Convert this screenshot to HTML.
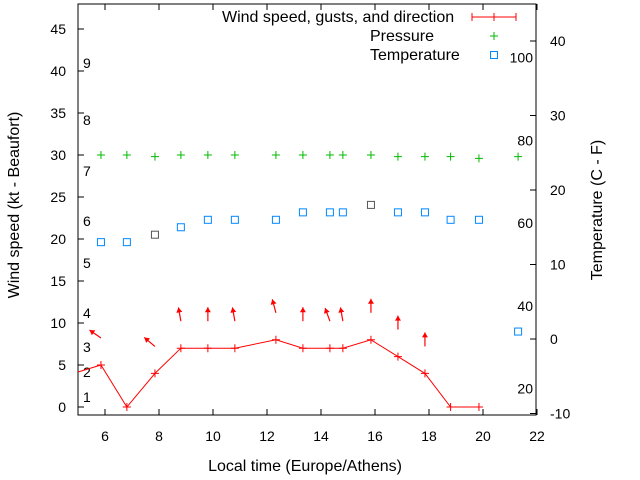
<!DOCTYPE html>
<html><head><meta charset="utf-8"><style>
body{margin:0;background:#fff}
svg{display:block;font-family:"Liberation Sans",sans-serif;font-size:14px}
</style></head><body>
<svg id="c" width="640" height="480">
<rect x="0" y="0" width="640" height="480" fill="#fff"/>
<g id="g"></g>
</svg>
<script>
const hours=[5.85,6.81,7.85,8.81,9.81,10.81,12.33,13.33,14.33,14.81,15.85,16.85,17.85,18.8,19.85];
const wind=[5,0,4,7,7,7,8,7,7,7,8,6,4,0,0];
const windDir=[305,null,310,350,0,350,345,0,340,350,0,0,0,null,null];
const presHours=[5.85,6.81,7.85,8.81,9.81,10.81,12.33,13.33,14.33,14.81,15.85,16.85,17.85,18.8,19.85,21.3];
const pressure=[30,30,29.8,30,30,30,30,30,30,30,30,29.8,29.8,29.8,29.6,29.8];
const temperature=[13,13,14,15,16,16,16,17,17,17,18,17,17,16,16,1];
const tempGray=[false,false,true,false,false,false,false,false,false,false,true,false,false,false,false,false];
const xTicks=[6,8,10,12,14,16,18,20,22];
const yTicks=[0,5,10,15,20,25,30,35,40,45];
const tTicks=[-10,0,10,20,30,40];
const beaufort=[[1,397],[2,372],[3,347],[4,313],[5,263],[6,221],[7,171],[8,120],[9,63]];
const fahr=[20,40,60,80,100];

const L=78,R=536,T=4,B=415;
const X=h=>L+(h-5)*27;
const Y=v=>407-v*8.4;
const TY=t=>339-t*7.45;
const g=document.getElementById('g');
const NS='http://www.w3.org/2000/svg';
function mk(tag,attrs,name,txt){const e=document.createElementNS(NS,tag);for(const k in attrs)e.setAttribute(k,attrs[k]);


if(txt!==undefined)e.textContent=txt;g.appendChild(e);return e;}

mk('rect',{x:L,y:T,width:R-L,height:B-T,fill:'none',stroke:'#000','stroke-width':1},'plot-frame');
xTicks.forEach(h=>{const x=X(h);
mk('line',{x1:x,y1:B,x2:x,y2:B-6,stroke:'#000'},'x-tick');
mk('line',{x1:x,y1:T,x2:x,y2:T+6,stroke:'#000'},'x-tick-top');
mk('text',{x:x,y:441,'text-anchor':'middle',fill:'#000'},'x-tick-label',h);});
yTicks.forEach(v=>{const y=Y(v);
mk('line',{x1:L,y1:y,x2:L+6,y2:y,stroke:'#000'},'y-tick');
mk('text',{x:66,y:y+5,'text-anchor':'end',fill:'#000'},'y-tick-label',v);});
tTicks.forEach(t=>{const y=TY(t);
mk('line',{x1:R,y1:y,x2:R-6,y2:y,stroke:'#000'},'temp-tick');
mk('text',{x:550,y:y+5,'text-anchor':'start',fill:'#000'},'temp-tick-label',t);});
beaufort.forEach(b=>mk('text',{x:83,y:b[1]+5,fill:'#000'},'beaufort-label',b[0]));
fahr.forEach(f=>mk('text',{x:533,y:TY((f-32)*5/9)+5,'text-anchor':'end',fill:'#000'},'fahrenheit-label',f));

mk('text',{x:305,y:471,'text-anchor':'middle',fill:'#000','font-size':16},'x-axis-title','Local time (Europe/Athens)');
mk('text',{x:19,y:205,'text-anchor':'middle',fill:'#000','font-size':16,transform:'rotate(-90 19 205)'},'y-axis-title','Wind speed (kt - Beaufort)');
mk('text',{x:602,y:210,'text-anchor':'middle',fill:'#000','font-size':16,transform:'rotate(-90 602 210)'},'y2-axis-title','Temperature (C - F)');

let pts=[[L,372]].concat(hours.map((h,i)=>[X(h),Y(wind[i])]));
mk('polyline',{points:pts.map(p=>p.join(',')).join(' '),fill:'none',stroke:'#f00','stroke-width':1},'wind-line');
hours.forEach((h,i)=>{const x=X(h),y=Y(wind[i]);
mk('path',{d:`M${x-4},${y}h8M${x},${y-4}v8`,stroke:'#f00'},'wind-point');
if(windDir[i]!==null){const a=windDir[i]*Math.PI/180;const bx=x,by=y-27;const tx=bx+14*Math.sin(a),ty=by-14*Math.cos(a);
mk('line',{x1:bx,y1:by,x2:tx,y2:ty,stroke:'#f00','stroke-width':1.2},'wind-direction-arrow');
const ux=Math.sin(a),uy=-Math.cos(a);const px=-uy,py=ux;
mk('polygon',{points:`${tx},${ty} ${tx-5*ux+3*px},${ty-5*uy+3*py} ${tx-5*ux-3*px},${ty-5*uy-3*py}`,fill:'#f00'},'wind-arrow-head');}});

presHours.forEach((h,i)=>{const x=X(h),y=Y(pressure[i]);
mk('path',{d:`M${x-4},${y}h8M${x},${y-4}v8`,stroke:'#0b0'},'pressure-point');});
presHours.forEach((h,i)=>{const x=X(h),y=TY(temperature[i]);
mk('rect',{x:x-3.5,y:y-3.5,width:7,height:7,fill:'none',stroke:tempGray[i]?'#555':'#08f'},'temperature-point');});

mk('text',{x:222,y:22,fill:'#000','font-size':16},'legend-wind-label','Wind speed, gusts, and direction');
mk('path',{d:'M472,17h44M472,13v8M494,13v8M516,13v8',stroke:'#f00'},'legend-wind-sample');
mk('text',{x:370,y:41,fill:'#000','font-size':16},'legend-pressure-label','Pressure');
mk('path',{d:'M490,36h8M494,32v8',stroke:'#0b0'},'legend-pressure-sample');
mk('text',{x:370,y:60,fill:'#000','font-size':16},'legend-temperature-label','Temperature');
mk('rect',{x:490.5,y:51.5,width:7,height:7,fill:'none',stroke:'#08f'},'legend-temperature-sample');
</script>
</body></html>
